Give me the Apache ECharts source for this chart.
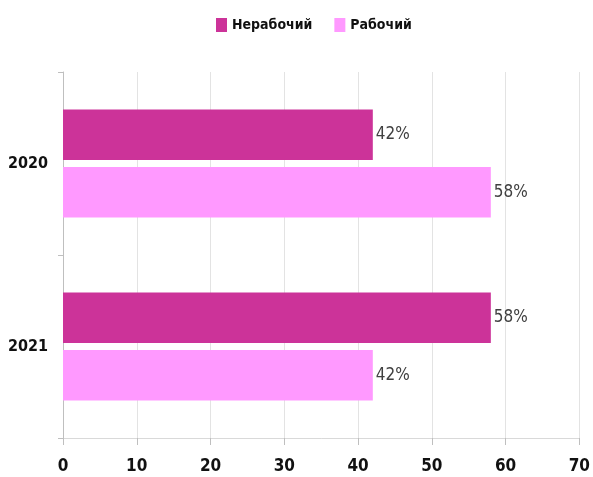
<!DOCTYPE html>
<html>
<head>
<meta charset="utf-8">
<script src="https://cdn.jsdelivr.net/npm/echarts@6/dist/echarts.min.js"></script>
<style>
  html, body { margin: 0; padding: 0; background: #fff; }
  #chart { width: 593px; height: 477px; }
</style>
</head>
<body>
<div id="chart"></div>
<script>
const years = ['2020', '2021']
const seriesNames = ['Нерабочий', 'Рабочий']
const nonWorking = [42, 58]
const working = [58, 42]
const xTicks = [0, 70, 10]

const font = '"Liberation Sans Narrow", "DejaVu Sans Condensed", "Liberation Sans", sans-serif'

const chart = echarts.init(document.getElementById('chart'))
chart.setOption({
  animation: false,
  textStyle: { fontFamily: font },
  legend: {
    top: 13,
    left: 211,
    itemWidth: 11,
    itemHeight: 14,
    itemGap: 22,
    icon: 'rect',
    textStyle: { fontSize: 14, fontWeight: 'bold', color: '#111', fontFamily: font },
    data: seriesNames
  },
  grid: { left: 63, right: 12, top: 72, bottom: 39 },
  xAxis: {
    type: 'value',
    min: xTicks[0],
    max: xTicks[1],
    interval: xTicks[2],
    axisLine: { show: true, lineStyle: { color: '#d9d9d9', width: 1 } },
    axisTick: { show: true, length: 7, lineStyle: { color: '#bfbfbf' } },
    splitLine: { show: true, lineStyle: { color: '#e3e3e3', width: 1 } },
    axisLabel: { color: '#111', fontSize: 17, fontWeight: 'bold', margin: 20, fontFamily: font }
  },
  yAxis: {
    type: 'category',
    inverse: true,
    data: years,
    axisLine: { show: true, lineStyle: { color: '#bfbfbf', width: 1 } },
    axisTick: { show: true, length: 5, lineStyle: { color: '#bfbfbf' } },
    axisLabel: { color: '#111', fontSize: 16, fontWeight: 'bold', margin: 15, fontFamily: font }
  },
  series: [
    {
      name: seriesNames[0],
      type: 'bar',
      data: nonWorking,
      barGap: '14%',
      barCategoryGap: '41%',
      itemStyle: { color: '#CC3399' },
      label: { show: true, position: 'right', distance: 3, formatter: '{c}%', color: '#404040', fontSize: 17, fontFamily: font }
    },
    {
      name: seriesNames[1],
      type: 'bar',
      data: working,
      barGap: '14%',
      barCategoryGap: '41%',
      itemStyle: { color: '#FF99FF' },
      label: { show: true, position: 'right', distance: 3, formatter: '{c}%', color: '#404040', fontSize: 17, fontFamily: font }
    }
  ]
})
</script>
</body>
</html>
